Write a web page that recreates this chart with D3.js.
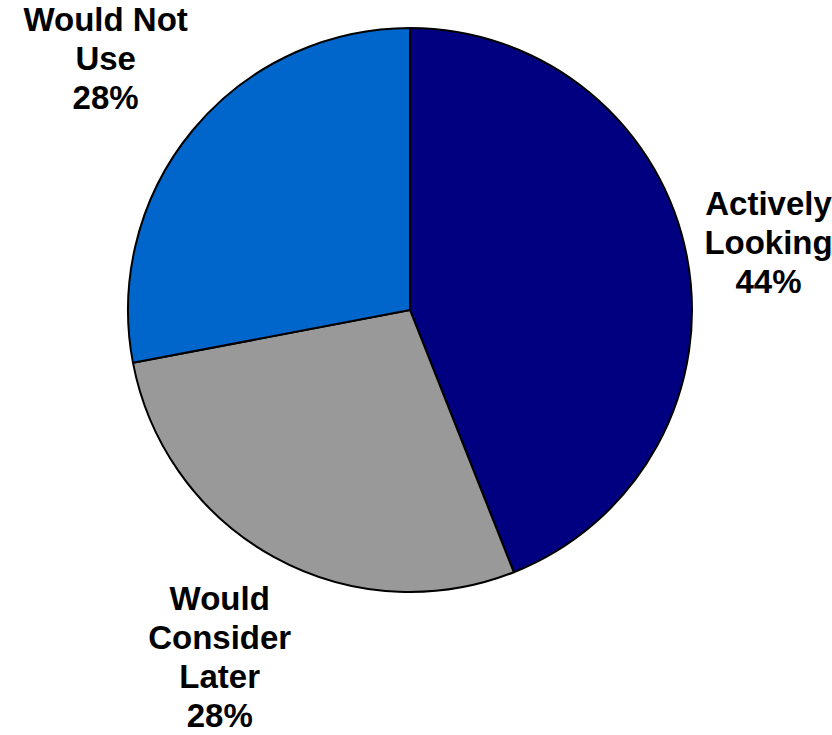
<!DOCTYPE html>
<html>
<head>
<meta charset="utf-8">
<script src="https://cdn.jsdelivr.net/npm/d3@7"></script>
<style>
  body { margin: 0; background: #fff; }
  text { font-family: Arial, "Liberation Sans", sans-serif; font-weight: bold; font-size: 33px; fill: #000; }
</style>
</head>
<body>
<svg width="832" height="735"></svg>
<script>
// slices, clockwise from 12 o'clock
var categories = ["Actively Looking", "Would Consider Later", "Would Not Use"];
var labelLines = [["Actively", "Looking"], ["Would", "Consider", "Later"], ["Would Not", "Use"]];
var values = [44, 28, 28];
var colors = ["#000080", "#999999", "#0066CC"];

var svg = d3.select("svg"),
    width = +svg.attr("width"),
    height = +svg.attr("height");

var cx = 410, cy = 310, radius = 282;
var lineH = 39, gap = 12;

var pie = d3.pie().sort(null).value(function(d) { return d; });
var arc = d3.arc().innerRadius(0).outerRadius(radius);
var arcs = pie(values);

var g = svg.append("g").attr("transform", "translate(" + cx + "," + cy + ")");

g.selectAll("path")
    .data(arcs)
    .enter()
    .append("path")
    .attr("d", arc)
    .attr("fill", function(d, i) { return colors[i]; })
    .attr("stroke", "#000")
    .attr("stroke-width", 2)
    .attr("stroke-linejoin", "round");

var label = g.selectAll("g.label")
    .data(arcs)
    .enter()
    .append("g")
    .attr("class", "label");

label.each(function(d, i) {
  var lines = labelLines[i].concat([values[i] + "%"]);
  var t = d3.select(this).append("text").attr("text-anchor", "middle");
  lines.forEach(function(s, k) {
    t.append("tspan")
      .attr("x", 0)
      .attr("y", (k - (lines.length - 1) / 2) * lineH + 12)
      .text(s);
  });
  var bb = this.getBBox();
  // push the block outward along the slice's mid angle until it clears the circle
  var a = (d.startAngle + d.endAngle) / 2;
  var ux = Math.sin(a), uy = -Math.cos(a);
  var dist = radius;
  for (; dist < 600; dist++) {
    var x0 = ux * dist + bb.x, x1 = x0 + bb.width;
    var y0 = uy * dist + bb.y, y1 = y0 + bb.height;
    var nx = Math.max(x0, Math.min(0, x1)), ny = Math.max(y0, Math.min(0, y1));
    if (Math.sqrt(nx * nx + ny * ny) >= radius + gap) break;
  }
  d3.select(this).attr("transform", "translate(" + (ux * dist) + "," + (uy * dist) + ")");
});
</script>
</body>
</html>
